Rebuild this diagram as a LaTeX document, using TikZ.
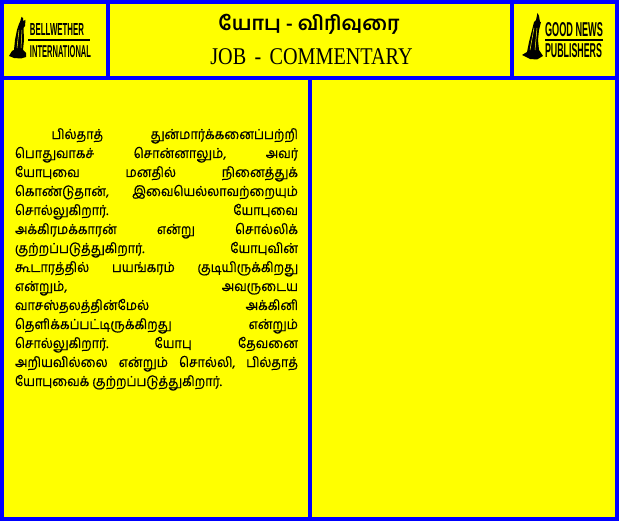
\documentclass[tikz,border=0pt]{standalone}
\usepackage{fontspec}
\setmainfont{Liberation Serif}
\newfontfamily\tamilfont[Script=Tamil]{Hind Madurai}
\newfontfamily\bodyfont[Script=Tamil,RawFeature={embolden=0.6}]{Hind Madurai}
\newfontfamily\logofont{Liberation Sans}
\definecolor{framecol}{RGB}{0,0,255}
\definecolor{panelcol}{RGB}{255,255,0}
\tikzset{
  every node/.style={inner sep=0mm, outer sep=0mm},
  panel/.style={fill=panelcol, draw=none},
  bodyline/.style={anchor=base west, xscale=.91, font=\bodyfont\fontsize{13.8}{14}\selectfont},
  logoword/.style={anchor=west, font=\logofont\bfseries},
  logorule/.style={line width=2pt},
  logoslit/.style={panelcol, line width=.5pt}
}
\newcommand{\logotext}[3]{\resizebox{#1pt}{#2pt}{#3}}
\begin{document}
\begin{tikzpicture}[x=1pt,y=-1pt]
  \useasboundingbox (0,0) rectangle (619,521);
  \fill[framecol] (0,0) rectangle (619,521);
  % header
  \fill[panel] (4,4) rectangle (106,76);
  \fill[panel] (110,4) rectangle (510,76);
  \fill[panel] (514,4) rectangle (615,76);
  % columns
  \fill[panel] (4,80) rectangle (308,517);
  \fill[panel] (312,80) rectangle (615,517);

  \node (title) [font=\tamilfont\bfseries\fontsize{20}{20}\selectfont] at (309,24) {யோபு - விரிவுரை};
  \node (subtitle) [xscale=.84, font=\fontsize{24}{24}\selectfont] at (311.5,56.5) {JOB\, - \,COMMENTARY};

  % left logo
  \fill (21.5,17) -- (23,18) -- (23,21) -- (25.5,20) -- (25,26) -- (23.5,28) -- (24,40) -- (23,50) -- (26,53) -- (26,57) -- (21,58.5) -- (14,58) -- (9,56) -- (12,51) -- (14,50) -- (15,40) -- (17,30) -- (19,24) -- (20,22) -- cycle;
  \draw[logoslit] (19,30) -- (17,48);
  \draw[logoslit] (22,30) -- (21,48);
  \node (bell) [logoword] at (30,30) {\logotext{54}{12}{BELLWETHER}};
  \draw[logorule] (28,40) -- (90,40);
  \node (intl) [logoword] at (30,52) {\logotext{61}{12}{INTERNATIONAL}};

  % right logo
  \fill (537.5,13) -- (539,16) -- (540,22) -- (541,22) -- (539,30) -- (538,40) -- (539,50) -- (543,56) -- (537,59.5) -- (530,59) -- (522,55) -- (527,52) -- (529,42) -- (532,30) -- (534,22) -- (536,20) -- cycle;
  \draw[logoslit] (534,28) -- (530,50);
  \draw[logoslit] (537,28) -- (535,50);
  \node (good) [logoword] at (545,30) {\logotext{58}{14}{GOOD NEWS}};
  \draw[logorule] (545,40) -- (603,40);
  \node (pub) [logoword] at (545,51) {\logotext{57}{14}{PUBLISHERS}};

  % body text
  \foreach \txt [count=\i from 0] in {
    {\hspace{40pt}பில்தாத்\hfill துன்மார்க்கனைப்பற்றி},
    {பொதுவாகச்\hfill சொன்னாலும்,\hfill அவர்},
    {யோபுவை\hfill மனதில்\hfill நினைத்துக்},
    {கொண்டுதான்,\hfill இவையெல்லாவற்றையும்},
    {சொல்லுகிறார்.\hfill யோபுவை},
    {அக்கிரமக்காரன்\hfill என்று\hfill சொல்லிக்},
    {குற்றப்படுத்துகிறார்.\hfill யோபுவின்},
    {கூடாரத்தில்\hfill பயங்கரம்\hfill குடியிருக்கிறது},
    {என்றும்,\hfill அவருடைய},
    {வாசஸ்தலத்தின்மேல்\hfill அக்கினி},
    {தெளிக்கப்பட்டிருக்கிறது\hfill என்றும்},
    {சொல்லுகிறார்.\hfill யோபு\hfill தேவனை},
    {அறியவில்லை\hfill என்றும்\hfill சொல்லி,\hfill பில்தாத்},
    {யோபுவைக்\ குற்றப்படுத்துகிறார்.\hfill}}
  {
    \node (line\i) [bodyline] at (15,{139+19*\i}) {\hbox to 311pt{\txt}};
  }
\end{tikzpicture}
\end{document}
